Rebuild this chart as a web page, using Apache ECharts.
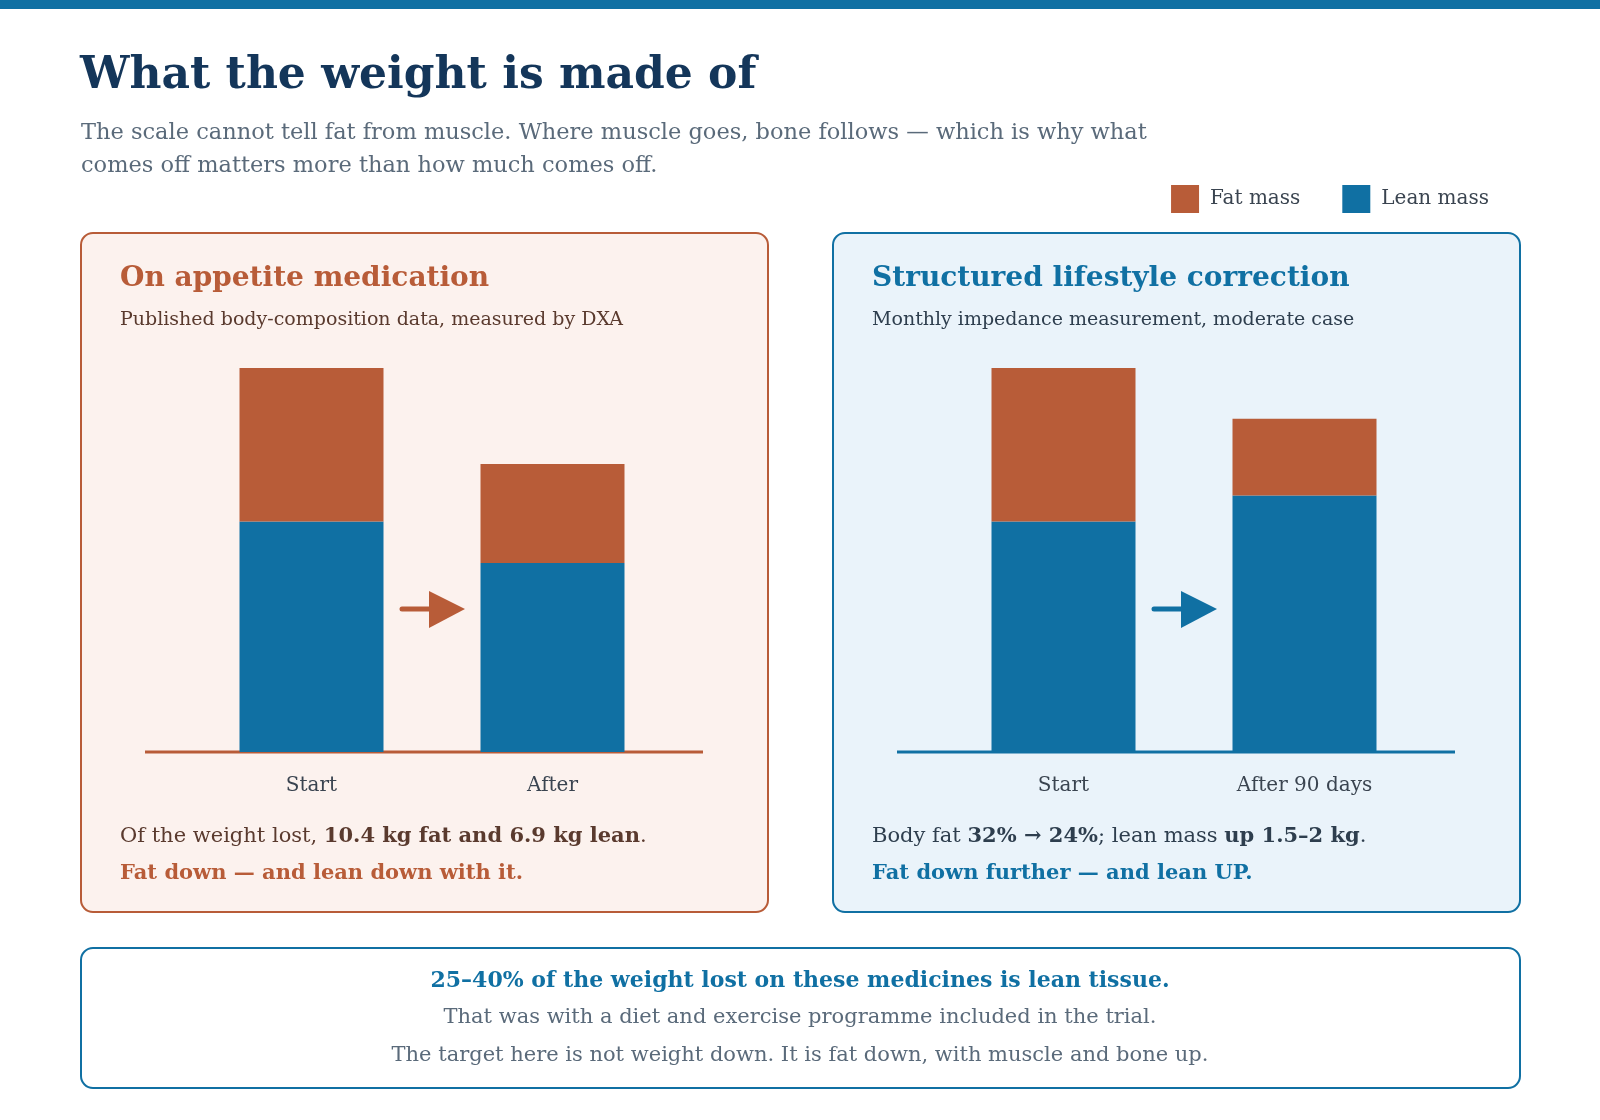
<!DOCTYPE html>
<html>
<head>
<meta charset="utf-8">
<title>What the weight is made of</title>
<script src="https://cdn.jsdelivr.net/npm/echarts@6/dist/echarts.min.js"></script>
<style>body{margin:0;background:#fff}</style>
</head>
<body>
<div id="main" style="width:1600px;height:1120px;"></div>
<script>
// body composition, relative units (Start total = 100)
var medCats = ['Start', 'After'];
var medLean = [60, 49.2];
var medFat = [40, 25.8];
var lifeCats = ['Start', 'After 90 days'];
var lifeLean = [60, 66.8];
var lifeFat = [40, 20];

var FAT = '#b85c38', LEAN = '#1070a3', NAVY = '#14365a', GREY = '#5a6a7a';
var F = 'Georgia, "DejaVu Serif", serif';
var K = 1600 / 1568;
function S(v) { return Math.round(v * K); }

var chart = echarts.init(document.getElementById('main'));

function grid(l) { return { left: S(l), width: S(472), top: S(361), bottom: 1120 - S(737) }; }
function xAx(i, cats) {
  return { gridIndex: i, type: 'category', data: cats, axisLine: { show: false }, axisTick: { show: false },
    axisLabel: { margin: 24, fontFamily: F, fontSize: 20, color: '#3a4450' } };
}
function yAx(i) { return { gridIndex: i, max: 100, min: 0, show: false }; }
function bars(i, name, data, color) {
  return { type: 'bar', name: name, xAxisIndex: i, yAxisIndex: i, stack: 's' + i, data: data,
    barWidth: S(141), itemStyle: { color: color } };
}
function txt(x, y, t, size, color, weight, align) {
  return { type: 'text', style: { x: S(x), y: S(y), text: t, font: (weight || 'normal') + ' ' + size + 'px ' + F, fill: color, textAlign: align || 'left', textVerticalAlign: 'middle' } };
}
function rich(x, y, t, color) {
  return { type: 'text', style: { x: S(x), y: S(y), text: t, fill: color, font: '21px ' + F, textVerticalAlign: 'middle',
    rich: { b: { fontWeight: 'bold', fontSize: 21, fontFamily: F, fill: color } } } };
}
function arrow(x, color) {
  return { type: 'group', children: [
    { type: 'line', shape: { x1: S(x), y1: S(597), x2: S(x + 30), y2: S(597) }, style: { stroke: color, lineWidth: 5, lineCap: 'round' } },
    { type: 'polygon', shape: { points: [[S(x + 26), S(579)], [S(x + 62), S(597)], [S(x + 26), S(615)]] }, style: { fill: color } }
  ] };
}
function box(x, y, w, h, fill, stroke) {
  return { type: 'rect', shape: { x: S(x), y: S(y), width: S(w), height: S(h), r: 12 }, style: { fill: fill, stroke: stroke, lineWidth: 2 }, z: -10 };
}

chart.setOption({
  animation: false,
  legend: { right: S(104), top: S(176), itemWidth: 28, itemHeight: 28, itemGap: 42, icon: 'rect',
    data: ['Fat mass', 'Lean mass'],
    textStyle: { fontFamily: F, fontSize: 20, color: '#3a4450', padding: [0, 0, 0, 6] } },
  grid: [grid(187), grid(924)],
  xAxis: [xAx(0, medCats), xAx(1, lifeCats)],
  yAxis: [yAx(0), yAx(1)],
  series: [
    bars(0, 'Lean mass', medLean, LEAN), bars(0, 'Fat mass', medFat, FAT),
    bars(1, 'Lean mass', lifeLean, LEAN), bars(1, 'Fat mass', lifeFat, FAT)
  ],
  graphic: [
    { type: 'rect', shape: { x: 0, y: 0, width: 1600, height: 9 }, style: { fill: LEAN }, z: -10 },
    box(79, 228, 673, 665, '#fcf2ee', FAT),
    box(816, 228, 673, 665, '#eaf3fa', LEAN),
    box(79, 929, 1410, 137, '#fff', LEAN),
    { type: 'line', shape: { x1: S(142), y1: S(737), x2: S(689), y2: S(737) }, style: { stroke: FAT, lineWidth: 3 } },
    { type: 'line', shape: { x1: S(879), y1: S(737), x2: S(1426), y2: S(737) }, style: { stroke: LEAN, lineWidth: 3 } },
    arrow(394, FAT), arrow(1131, LEAN),
    txt(78, 75, 'What the weight is made of', 44, NAVY, 'bold'),
    txt(79, 130, 'The scale cannot tell fat from muscle. Where muscle goes, bone follows \u2014 which is why what', 22.5, GREY),
    txt(79, 163, 'comes off matters more than how much comes off.', 22.5, GREY),
    txt(118, 273, 'On appetite medication', 28, FAT, 'bold'),
    txt(118, 314, 'Published body-composition data, measured by DXA', 19, '#5a3a2e'),
    txt(855, 273, 'Structured lifestyle correction', 28, LEAN, 'bold'),
    txt(855, 314, 'Monthly impedance measurement, moderate case', 19, '#2e3e4e'),
    rich(118, 820, 'Of the weight lost, {b|10.4 kg fat and 6.9 kg lean}.', '#5a3a2e'),
    txt(118, 857, 'Fat down \u2014 and lean down with it.', 21, FAT, 'bold'),
    rich(855, 820, 'Body fat {b|32% \u2192 24%}; lean mass {b|up 1.5\u20132 kg}.', '#2e3e4e'),
    txt(855, 857, 'Fat down further \u2014 and lean UP.', 21, LEAN, 'bold'),
    txt(784, 961, '25\u201340% of the weight lost on these medicines is lean tissue.', 22, LEAN, 'bold', 'center'),
    txt(784, 998, 'That was with a diet and exercise programme included in the trial.', 21, GREY, 'normal', 'center'),
    txt(784, 1035, 'The target here is not weight down. It is fat down, with muscle and bone up.', 21, GREY, 'normal', 'center')
  ]
});
</script>
</body>
</html>
